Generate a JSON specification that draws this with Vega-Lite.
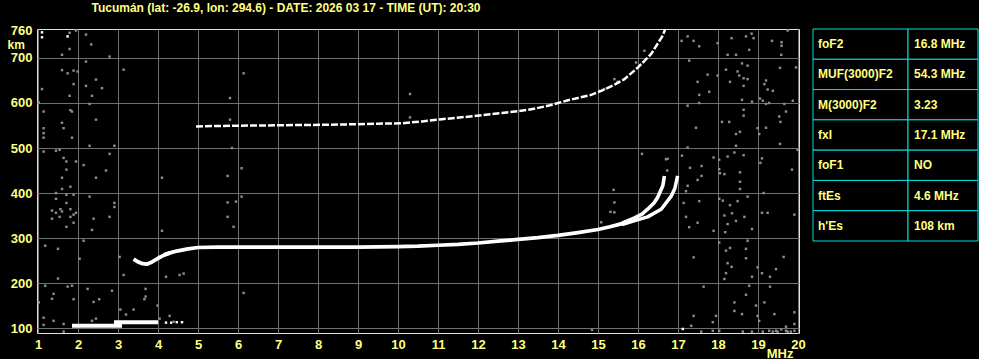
{
  "$schema": "https://vega.github.io/schema/vega-lite/v6.json",
  "background": "#000000",
  "padding": {"left": 6, "top": 2, "right": 0, "bottom": 0},
  "title": {"text": "Tucumán (lat: -26.9, lon: 294.6) - DATE: 2026 03 17 - TIME (UT): 20:30", "anchor": "start", "dx": 85, "color": "#ffff80", "font": "Liberation Sans", "fontSize": 12, "fontWeight": "bold", "offset": 9},
  "config": {"font": "Liberation Sans", "concat": {"spacing": 14}},
  "bounds": "flush",
  "spacing": 14,
  "datasets": {
    "traces": [
      {"trace": "Es-lo", "f": 1.85, "h": 105}, {"trace": "Es-lo", "f": 3.1, "h": 105},
      {"trace": "Es-hi", "f": 2.9, "h": 113}, {"trace": "Es-hi", "f": 4.0, "h": 113},
      {"trace": "F-base", "f": 3.39, "h": 253}, {"trace": "F-base", "f": 3.5, "h": 247}, {"trace": "F-base", "f": 3.62, "h": 243}, {"trace": "F-base", "f": 3.72, "h": 242}, {"trace": "F-base", "f": 3.85, "h": 247}, {"trace": "F-base", "f": 4.0, "h": 255}, {"trace": "F-base", "f": 4.15, "h": 262}, {"trace": "F-base", "f": 4.3, "h": 267},
      {"trace": "F", "f": 4.15, "h": 263}, {"trace": "F", "f": 4.3, "h": 267}, {"trace": "F", "f": 4.47, "h": 271}, {"trace": "F", "f": 4.75, "h": 276}, {"trace": "F", "f": 5.0, "h": 279}, {"trace": "F", "f": 5.5, "h": 280}, {"trace": "F", "f": 6, "h": 280}, {"trace": "F", "f": 7, "h": 280}, {"trace": "F", "f": 8, "h": 280}, {"trace": "F", "f": 9, "h": 280}, {"trace": "F", "f": 10, "h": 281}, {"trace": "F", "f": 10.5, "h": 282}, {"trace": "F", "f": 11, "h": 284}, {"trace": "F", "f": 11.5, "h": 286}, {"trace": "F", "f": 12, "h": 289}, {"trace": "F", "f": 12.5, "h": 293}, {"trace": "F", "f": 13, "h": 297}, {"trace": "F", "f": 13.5, "h": 301}, {"trace": "F", "f": 14, "h": 306}, {"trace": "F", "f": 14.5, "h": 312}, {"trace": "F", "f": 15, "h": 319}, {"trace": "F", "f": 15.3, "h": 325}, {"trace": "F", "f": 15.6, "h": 332}, {"trace": "F", "f": 15.9, "h": 341},
      {"trace": "O", "f": 15.6, "h": 333}, {"trace": "O", "f": 15.9, "h": 344}, {"trace": "O", "f": 16.1, "h": 353}, {"trace": "O", "f": 16.24, "h": 364}, {"trace": "O", "f": 16.4, "h": 378}, {"trace": "O", "f": 16.49, "h": 390}, {"trace": "O", "f": 16.62, "h": 416}, {"trace": "O", "f": 16.66, "h": 438},
      {"trace": "X", "f": 15.6, "h": 330}, {"trace": "X", "f": 15.9, "h": 338}, {"trace": "X", "f": 16.24, "h": 347}, {"trace": "X", "f": 16.58, "h": 364}, {"trace": "X", "f": 16.83, "h": 393}, {"trace": "X", "f": 16.92, "h": 410}, {"trace": "X", "f": 16.99, "h": 438}
    ],
    "second": [
      {"f": 4.95, "h": 548}, {"f": 5.5, "h": 549}, {"f": 6.5, "h": 550}, {"f": 7.5, "h": 551}, {"f": 8.5, "h": 552}, {"f": 9.5, "h": 554}, {"f": 10.1, "h": 555}, {"f": 10.6, "h": 559}, {"f": 11.1, "h": 564}, {"f": 11.8, "h": 570}, {"f": 12.6, "h": 578}, {"f": 13.0, "h": 582}, {"f": 13.4, "h": 587}, {"f": 13.8, "h": 595}, {"f": 14.25, "h": 606}, {"f": 14.83, "h": 618}, {"f": 15.08, "h": 627}, {"f": 15.4, "h": 640}, {"f": 15.66, "h": 653}, {"f": 16.0, "h": 679}, {"f": 16.33, "h": 709}, {"f": 16.62, "h": 750}, {"f": 16.68, "h": 764}
    ],
    "noise": [
      {"f": 1.10, "h": 757, "echo": "strong"}, {"f": 1.10, "h": 746, "echo": "strong"}, {"f": 1.74, "h": 748, "echo": "strong"}, {"f": 17.12, "h": 98, "echo": "strong"},
      {"f": 4.2, "h": 112, "echo": "strong"}, {"f": 4.33, "h": 112, "echo": "strong"}, {"f": 4.47, "h": 113, "echo": "strong"}, {"f": 4.6, "h": 113, "echo": "strong"},
      {"f": 1.79, "h": 756, "echo": "weak"}, {"f": 1.95, "h": 761, "echo": "weak"}, {"f": 2.20, "h": 752, "echo": "weak"}, {"f": 2.33, "h": 730, "echo": "weak"}, {"f": 1.60, "h": 707, "echo": "weak"}, {"f": 1.79, "h": 720, "echo": "weak"}, {"f": 2.79, "h": 703, "echo": "weak"}, {"f": 2.20, "h": 692, "echo": "weak"}, {"f": 1.60, "h": 673, "echo": "weak"}, {"f": 1.74, "h": 666, "echo": "weak"}, {"f": 1.89, "h": 672, "echo": "weak"}, {"f": 1.99, "h": 670, "echo": "weak"}, {"f": 3.14, "h": 674, "echo": "weak"}, {"f": 2.45, "h": 652, "echo": "weak"}, {"f": 1.89, "h": 642, "echo": "weak"}, {"f": 2.20, "h": 638, "echo": "weak"}, {"f": 2.60, "h": 633, "echo": "weak"}, {"f": 1.10, "h": 631, "echo": "weak"}, {"f": 1.79, "h": 616, "echo": "weak"}, {"f": 2.35, "h": 616, "echo": "weak"}, {"f": 1.02, "h": 601, "echo": "weak"}, {"f": 2.29, "h": 598, "echo": "weak"}, {"f": 1.14, "h": 581, "echo": "weak"}, {"f": 1.81, "h": 584, "echo": "weak"}, {"f": 1.85, "h": 581, "echo": "weak"}, {"f": 2.45, "h": 563, "echo": "weak"}, {"f": 1.60, "h": 556, "echo": "weak"}, {"f": 1.64, "h": 544, "echo": "weak"}, {"f": 1.14, "h": 544, "echo": "weak"}, {"f": 1.14, "h": 533, "echo": "weak"}, {"f": 1.14, "h": 523, "echo": "weak"}, {"f": 1.85, "h": 523, "echo": "weak"}, {"f": 2.29, "h": 505, "echo": "weak"}, {"f": 2.91, "h": 505, "echo": "weak"}, {"f": 1.14, "h": 492, "echo": "weak"}, {"f": 1.45, "h": 494, "echo": "weak"}, {"f": 1.54, "h": 496, "echo": "weak"}, {"f": 2.79, "h": 487, "echo": "weak"}, {"f": 1.64, "h": 478, "echo": "weak"}, {"f": 1.71, "h": 470, "echo": "weak"}, {"f": 1.95, "h": 470, "echo": "weak"}, {"f": 2.14, "h": 462, "echo": "weak"}, {"f": 2.70, "h": 450, "echo": "weak"}, {"f": 1.60, "h": 434, "echo": "weak"}, {"f": 2.45, "h": 434, "echo": "weak"}, {"f": 4.10, "h": 434, "echo": "weak"}, {"f": 1.71, "h": 452, "echo": "weak"}, {"f": 1.81, "h": 414, "echo": "weak"}, {"f": 1.60, "h": 409, "echo": "weak"}, {"f": 1.45, "h": 400, "echo": "weak"}, {"f": 1.71, "h": 396, "echo": "weak"}, {"f": 1.89, "h": 396, "echo": "weak"}, {"f": 2.29, "h": 392, "echo": "weak"}, {"f": 2.91, "h": 378, "echo": "weak"}, {"f": 2.91, "h": 369, "echo": "weak"}, {"f": 1.45, "h": 387, "echo": "weak"}, {"f": 1.71, "h": 378, "echo": "weak"}, {"f": 1.35, "h": 361, "echo": "weak"}, {"f": 1.45, "h": 356, "echo": "weak"}, {"f": 1.56, "h": 364, "echo": "weak"}, {"f": 1.60, "h": 359, "echo": "weak"}, {"f": 1.81, "h": 364, "echo": "weak"}, {"f": 1.95, "h": 356, "echo": "weak"}, {"f": 1.89, "h": 352, "echo": "weak"}, {"f": 1.35, "h": 343, "echo": "weak"}, {"f": 1.54, "h": 347, "echo": "weak"}, {"f": 1.81, "h": 347, "echo": "weak"}, {"f": 1.89, "h": 334, "echo": "weak"}, {"f": 2.79, "h": 347, "echo": "weak"}, {"f": 2.39, "h": 343, "echo": "weak"}, {"f": 2.35, "h": 318, "echo": "weak"}, {"f": 1.71, "h": 325, "echo": "weak"}, {"f": 4.10, "h": 316, "echo": "weak"}, {"f": 2.14, "h": 294, "echo": "weak"}, {"f": 1.18, "h": 283, "echo": "weak"}, {"f": 1.50, "h": 276, "echo": "weak"}, {"f": 2.04, "h": 254, "echo": "weak"}, {"f": 3.04, "h": 258, "echo": "weak"}, {"f": 3.14, "h": 218, "echo": "weak"}, {"f": 4.20, "h": 214, "echo": "weak"}, {"f": 4.54, "h": 218, "echo": "weak"}, {"f": 4.64, "h": 221, "echo": "weak"}, {"f": 1.50, "h": 210, "echo": "weak"}, {"f": 1.18, "h": 194, "echo": "weak"}, {"f": 1.74, "h": 192, "echo": "weak"}, {"f": 1.85, "h": 194, "echo": "weak"}, {"f": 2.24, "h": 187, "echo": "weak"}, {"f": 2.85, "h": 183, "echo": "weak"}, {"f": 3.69, "h": 187, "echo": "weak"}, {"f": 1.39, "h": 176, "echo": "weak"}, {"f": 1.35, "h": 165, "echo": "weak"}, {"f": 1.89, "h": 164, "echo": "weak"}, {"f": 2.53, "h": 164, "echo": "weak"}, {"f": 3.69, "h": 170, "echo": "weak"}, {"f": 3.66, "h": 164, "echo": "weak"}, {"f": 2.39, "h": 158, "echo": "weak"}, {"f": 3.99, "h": 150, "echo": "weak"}, {"f": 3.39, "h": 141, "echo": "weak"}, {"f": 3.06, "h": 141, "echo": "weak"}, {"f": 3.20, "h": 130, "echo": "weak"}, {"f": 4.29, "h": 127, "echo": "weak"}, {"f": 1.14, "h": 123, "echo": "weak"}, {"f": 1.39, "h": 116, "echo": "weak"}, {"f": 1.14, "h": 107, "echo": "weak"}, {"f": 1.64, "h": 109, "echo": "weak"}, {"f": 2.35, "h": 116, "echo": "weak"}, {"f": 2.45, "h": 121, "echo": "weak"}, {"f": 4.04, "h": 121, "echo": "weak"}, {"f": 4.39, "h": 114, "echo": "weak"}, {"f": 1.64, "h": 92, "echo": "weak"}, {"f": 1.02, "h": 157, "echo": "weak"},
      {"f": 6.14, "h": 666, "echo": "weak"}, {"f": 5.80, "h": 611, "echo": "weak"}, {"f": 10.30, "h": 620, "echo": "weak"}, {"f": 5.85, "h": 500, "echo": "weak"}, {"f": 6.09, "h": 455, "echo": "weak"}, {"f": 5.74, "h": 438, "echo": "weak"}, {"f": 6.09, "h": 392, "echo": "weak"}, {"f": 5.74, "h": 379, "echo": "weak"}, {"f": 5.95, "h": 381, "echo": "weak"}, {"f": 5.74, "h": 347, "echo": "weak"}, {"f": 5.89, "h": 325, "echo": "weak"}, {"f": 6.14, "h": 178, "echo": "weak"}, {"f": 16.10, "h": 487, "echo": "weak"}, {"f": 15.39, "h": 407, "echo": "weak"}, {"f": 15.41, "h": 379, "echo": "weak"}, {"f": 15.31, "h": 358, "echo": "weak"}, {"f": 15.41, "h": 357, "echo": "weak"}, {"f": 15.08, "h": 335, "echo": "weak"}, {"f": 14.85, "h": 96, "echo": "weak"}, {"f": 16.73, "h": 450, "echo": "weak"}, {"f": 16.70, "h": 475, "echo": "weak"}, {"f": 15.41, "h": 653, "echo": "weak"}, {"f": 15.49, "h": 647, "echo": "weak"}, {"f": 15.16, "h": 631, "echo": "weak"}, {"f": 15.03, "h": 627, "echo": "weak"}, {"f": 15.95, "h": 690, "echo": "weak"}, {"f": 16.16, "h": 716, "echo": "weak"}, {"f": 10.30, "h": 568, "echo": "weak"}, {"f": 5.80, "h": 563, "echo": "weak"},
      {"f": 17.09, "h": 738, "echo": "weak"}, {"f": 17.24, "h": 748, "echo": "weak"}, {"f": 17.39, "h": 738, "echo": "weak"}, {"f": 17.53, "h": 726, "echo": "weak"}, {"f": 17.99, "h": 733, "echo": "weak"}, {"f": 18.34, "h": 744, "echo": "weak"}, {"f": 18.24, "h": 707, "echo": "weak"}, {"f": 18.45, "h": 707, "echo": "weak"}, {"f": 18.70, "h": 748, "echo": "weak"}, {"f": 18.84, "h": 754, "echo": "weak"}, {"f": 18.89, "h": 744, "echo": "weak"}, {"f": 18.78, "h": 718, "echo": "weak"}, {"f": 19.35, "h": 738, "echo": "weak"}, {"f": 19.59, "h": 735, "echo": "weak"}, {"f": 19.59, "h": 727, "echo": "weak"}, {"f": 19.58, "h": 707, "echo": "weak"}, {"f": 19.74, "h": 761, "echo": "weak"}, {"f": 17.28, "h": 694, "echo": "weak"}, {"f": 17.74, "h": 663, "echo": "weak"}, {"f": 17.99, "h": 661, "echo": "weak"}, {"f": 17.49, "h": 647, "echo": "weak"}, {"f": 18.20, "h": 674, "echo": "weak"}, {"f": 18.30, "h": 647, "echo": "weak"}, {"f": 18.49, "h": 670, "echo": "weak"}, {"f": 18.60, "h": 688, "echo": "weak"}, {"f": 18.74, "h": 683, "echo": "weak"}, {"f": 18.53, "h": 661, "echo": "weak"}, {"f": 18.64, "h": 655, "echo": "weak"}, {"f": 18.74, "h": 653, "echo": "weak"}, {"f": 18.64, "h": 638, "echo": "weak"}, {"f": 19.20, "h": 650, "echo": "weak"}, {"f": 19.16, "h": 642, "echo": "weak"}, {"f": 19.24, "h": 630, "echo": "weak"}, {"f": 19.37, "h": 627, "echo": "weak"}, {"f": 19.55, "h": 678, "echo": "weak"}, {"f": 19.95, "h": 679, "echo": "weak"}, {"f": 17.53, "h": 618, "echo": "weak"}, {"f": 17.78, "h": 625, "echo": "weak"}, {"f": 17.53, "h": 600, "echo": "weak"}, {"f": 17.24, "h": 594, "echo": "weak"}, {"f": 18.60, "h": 607, "echo": "weak"}, {"f": 18.64, "h": 585, "echo": "weak"}, {"f": 18.85, "h": 603, "echo": "weak"}, {"f": 19.05, "h": 610, "echo": "weak"}, {"f": 19.12, "h": 605, "echo": "weak"}, {"f": 19.20, "h": 598, "echo": "weak"}, {"f": 19.28, "h": 600, "echo": "weak"}, {"f": 19.66, "h": 598, "echo": "weak"}, {"f": 19.87, "h": 605, "echo": "weak"}, {"f": 19.53, "h": 570, "echo": "weak"}, {"f": 19.56, "h": 558, "echo": "weak"}, {"f": 19.70, "h": 581, "echo": "weak"}, {"f": 18.64, "h": 572, "echo": "weak"}, {"f": 18.10, "h": 558, "echo": "weak"}, {"f": 18.28, "h": 558, "echo": "weak"}, {"f": 17.45, "h": 545, "echo": "weak"}, {"f": 18.45, "h": 531, "echo": "weak"}, {"f": 18.55, "h": 536, "echo": "weak"}, {"f": 18.99, "h": 544, "echo": "weak"}, {"f": 19.03, "h": 531, "echo": "weak"}, {"f": 19.20, "h": 545, "echo": "weak"}, {"f": 19.55, "h": 509, "echo": "weak"}, {"f": 18.45, "h": 505, "echo": "weak"}, {"f": 16.74, "h": 476, "echo": "weak"}, {"f": 17.10, "h": 483, "echo": "weak"}, {"f": 17.24, "h": 501, "echo": "weak"}, {"f": 17.89, "h": 479, "echo": "weak"}, {"f": 18.03, "h": 474, "echo": "weak"}, {"f": 18.24, "h": 481, "echo": "weak"}, {"f": 18.41, "h": 490, "echo": "weak"}, {"f": 18.64, "h": 484, "echo": "weak"}, {"f": 19.10, "h": 477, "echo": "weak"}, {"f": 19.06, "h": 467, "echo": "weak"}, {"f": 19.85, "h": 452, "echo": "weak"}, {"f": 19.99, "h": 496, "echo": "weak"}, {"f": 17.30, "h": 456, "echo": "weak"}, {"f": 17.59, "h": 460, "echo": "weak"}, {"f": 17.59, "h": 438, "echo": "weak"}, {"f": 17.49, "h": 429, "echo": "weak"}, {"f": 18.03, "h": 453, "echo": "weak"}, {"f": 18.05, "h": 444, "echo": "weak"}, {"f": 18.16, "h": 442, "echo": "weak"}, {"f": 18.55, "h": 446, "echo": "weak"}, {"f": 18.55, "h": 425, "echo": "weak"}, {"f": 18.55, "h": 409, "echo": "weak"}, {"f": 17.24, "h": 416, "echo": "weak"}, {"f": 17.20, "h": 404, "echo": "weak"}, {"f": 19.14, "h": 400, "echo": "weak"}, {"f": 18.74, "h": 392, "echo": "weak"}, {"f": 18.03, "h": 387, "echo": "weak"}, {"f": 18.12, "h": 383, "echo": "weak"}, {"f": 17.53, "h": 382, "echo": "weak"}, {"f": 18.30, "h": 373, "echo": "weak"}, {"f": 18.49, "h": 382, "echo": "weak"}, {"f": 17.14, "h": 378, "echo": "weak"}, {"f": 17.20, "h": 347, "echo": "weak"}, {"f": 17.28, "h": 324, "echo": "weak"}, {"f": 17.49, "h": 334, "echo": "weak"}, {"f": 18.16, "h": 350, "echo": "weak"}, {"f": 18.24, "h": 331, "echo": "weak"}, {"f": 18.35, "h": 355, "echo": "weak"}, {"f": 18.45, "h": 338, "echo": "weak"}, {"f": 18.66, "h": 347, "echo": "weak"}, {"f": 18.85, "h": 320, "echo": "weak"}, {"f": 19.10, "h": 356, "echo": "weak"}, {"f": 19.24, "h": 356, "echo": "weak"}, {"f": 19.91, "h": 352, "echo": "weak"}, {"f": 17.89, "h": 316, "echo": "weak"}, {"f": 18.18, "h": 313, "echo": "weak"}, {"f": 18.03, "h": 290, "echo": "weak"}, {"f": 18.74, "h": 294, "echo": "weak"}, {"f": 18.20, "h": 272, "echo": "weak"}, {"f": 18.30, "h": 278, "echo": "weak"}, {"f": 18.70, "h": 276, "echo": "weak"}, {"f": 18.70, "h": 255, "echo": "weak"}, {"f": 17.39, "h": 257, "echo": "weak"}, {"f": 18.24, "h": 244, "echo": "weak"}, {"f": 18.34, "h": 236, "echo": "weak"}, {"f": 18.99, "h": 235, "echo": "weak"}, {"f": 19.10, "h": 222, "echo": "weak"}, {"f": 19.30, "h": 214, "echo": "weak"}, {"f": 19.45, "h": 231, "echo": "weak"}, {"f": 19.64, "h": 258, "echo": "weak"}, {"f": 18.16, "h": 209, "echo": "weak"}, {"f": 18.20, "h": 222, "echo": "weak"}, {"f": 18.85, "h": 214, "echo": "weak"}, {"f": 18.78, "h": 194, "echo": "weak"}, {"f": 17.64, "h": 192, "echo": "weak"}, {"f": 18.70, "h": 174, "echo": "weak"}, {"f": 19.30, "h": 192, "echo": "weak"}, {"f": 18.41, "h": 157, "echo": "weak"}, {"f": 18.41, "h": 138, "echo": "weak"}, {"f": 18.60, "h": 131, "echo": "weak"}, {"f": 18.95, "h": 150, "echo": "weak"}, {"f": 19.16, "h": 157, "echo": "weak"}, {"f": 19.41, "h": 131, "echo": "weak"}, {"f": 19.91, "h": 135, "echo": "weak"}, {"f": 17.95, "h": 127, "echo": "weak"}, {"f": 17.39, "h": 127, "echo": "weak"}, {"f": 17.87, "h": 113, "echo": "weak"}, {"f": 18.99, "h": 127, "echo": "weak"}, {"f": 19.03, "h": 116, "echo": "weak"}, {"f": 17.33, "h": 105, "echo": "weak"}, {"f": 19.91, "h": 109, "echo": "weak"}, {"f": 19.70, "h": 103, "echo": "weak"}, {"f": 17.58, "h": 92, "echo": "weak"}, {"f": 17.87, "h": 94, "echo": "weak"}, {"f": 18.03, "h": 94, "echo": "weak"}, {"f": 18.62, "h": 92, "echo": "weak"}, {"f": 18.85, "h": 92, "echo": "weak"}, {"f": 19.12, "h": 92, "echo": "weak"}, {"f": 19.28, "h": 94, "echo": "weak"}, {"f": 19.37, "h": 92, "echo": "weak"}, {"f": 19.45, "h": 94, "echo": "weak"}, {"f": 19.49, "h": 92, "echo": "weak"}, {"f": 19.58, "h": 97, "echo": "weak"}, {"f": 19.70, "h": 94, "echo": "weak"}, {"f": 19.74, "h": 92, "echo": "weak"}, {"f": 19.82, "h": 92, "echo": "weak"}, {"f": 19.91, "h": 94, "echo": "weak"}
    ],
    "params": [
      {"param": "foF2", "value": "16.8 MHz"},
      {"param": "MUF(3000)F2", "value": "54.3 MHz"},
      {"param": "M(3000)F2", "value": "3.23"},
      {"param": "fxI", "value": "17.1 MHz"},
      {"param": "foF1", "value": "NO"},
      {"param": "ftEs", "value": "4.6 MHz"},
      {"param": "h'Es", "value": "108 km"}
    ]
  },
  "hconcat": [
    {
      "width": 762,
      "height": 304,
      "view": {"stroke": "#ffff00", "strokeWidth": 1},
      "encoding": {
        "x": {"field": "f", "type": "quantitative", "scale": {"domain": [0.975, 20.025], "nice": false, "zero": false},
          "axis": {"values": [1,2,3,4,5,6,7,8,9,10,11,12,13,14,15,16,17,18,19,20], "title": "MHz", "titleX": 756, "titleY": 24, "titleAlign": "right", "titleBaseline": "alphabetic", "titleColor": "#ffff80", "titleFontSize": 13, "titleFontWeight": "bold", "labelColor": "#ffff80", "labelFontSize": 13, "labelFontWeight": "bold", "labelFlush": false, "labelPadding": 5, "ticks": false, "domain": false, "grid": true, "gridColor": "#707070", "gridOpacity": 1, "gridWidth": 1}},
        "y": {"field": "h", "type": "quantitative", "scale": {"domain": [89, 764.4], "nice": false, "zero": false},
          "axis": {"values": [100,200,300,400,500,600,700,760], "title": "km", "titleAngle": 0, "titleX": -30, "titleY": 19, "titleAlign": "left", "titleBaseline": "alphabetic", "titleColor": "#ffff80", "titleFontSize": 12, "titleFontWeight": "bold", "labelColor": "#ffff80", "labelFontSize": 13, "labelFontWeight": "bold", "labelPadding": 5, "ticks": false, "domain": false, "grid": true, "gridColor": {"condition": {"test": "datum.value == 760", "value": "transparent"}, "value": "#707070"}, "gridOpacity": 1, "gridWidth": 1}}
      },
      "layer": [
        {"data": {"name": "noise"}, "mark": {"type": "square", "size": 6, "opacity": 1},
          "encoding": {"color": {"field": "echo", "type": "nominal", "scale": {"domain": ["weak", "strong"], "range": ["#8c8c8c", "#ffffff"]}, "legend": null}}},
        {"data": {"name": "traces"}, "mark": {"type": "line", "color": "#ffffff", "strokeCap": "butt", "strokeJoin": "round", "clip": true},
          "encoding": {"strokeWidth": {"field": "trace", "type": "nominal", "scale": {"domain": ["Es-lo", "Es-hi", "F-base", "F", "O", "X"], "range": [4, 3.5, 3, 6, 3, 3]}, "legend": null}}},
        {"data": {"name": "second"}, "mark": {"type": "line", "color": "#ffffff", "strokeWidth": 2.5, "strokeDash": [7, 2], "strokeCap": "butt", "clip": true}, "encoding": {}}
      ]
    },
    {
      "width": 165,
      "height": 212,
      "view": {"stroke": null},
      "data": {"name": "params"},
      "encoding": {"y": {"field": "param", "type": "nominal", "sort": null, "axis": null, "scale": {"paddingInner": 0, "paddingOuter": 0}}},
      "layer": [
        {"mark": {"type": "rect", "fill": "#000000", "stroke": "#00e0e0", "strokeWidth": 1},
          "encoding": {"x": {"datum": 0, "type": "quantitative", "scale": {"domain": [0, 165], "nice": false}, "axis": null}, "x2": {"datum": 95}}},
        {"mark": {"type": "rect", "fill": "#000000", "stroke": "#00e0e0", "strokeWidth": 1},
          "encoding": {"x": {"datum": 95, "type": "quantitative"}, "x2": {"datum": 165}}},
        {"mark": {"type": "text", "align": "left", "baseline": "middle", "color": "#ffff80", "fontSize": 12, "fontWeight": "bold"},
          "encoding": {"x": {"datum": 5, "type": "quantitative"}, "text": {"field": "param"}}},
        {"mark": {"type": "text", "align": "left", "baseline": "middle", "color": "#ffff80", "fontSize": 12, "fontWeight": "bold"},
          "encoding": {"x": {"datum": 101, "type": "quantitative"}, "text": {"field": "value"}}}
      ]
    }
  ]
}
